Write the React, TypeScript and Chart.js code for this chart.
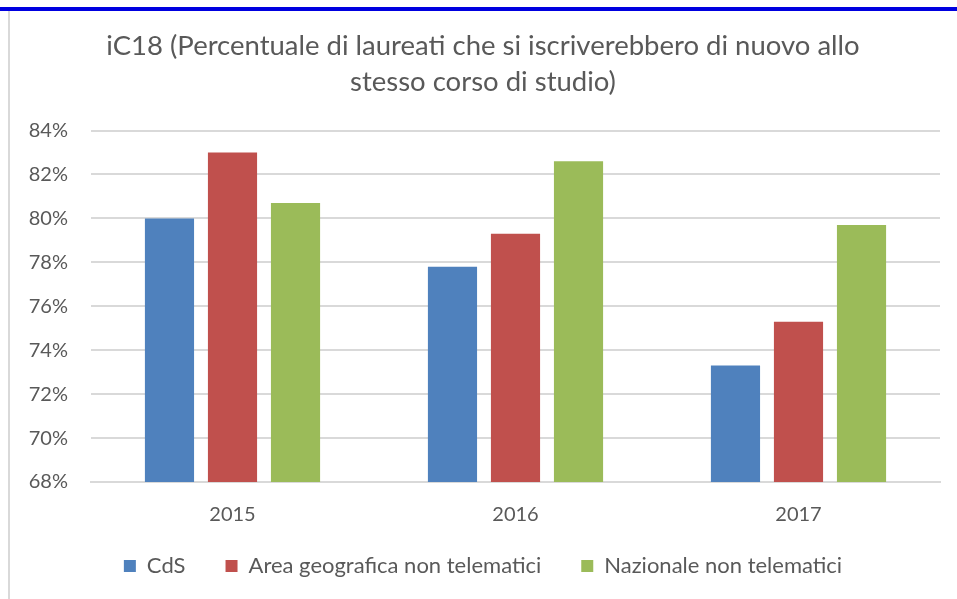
import React, { useEffect, useRef } from "react";
import { Chart, registerables } from "chart.js";

Chart.register(...registerables);

const categories = ["2015", "2016", "2017"];
const cdsValues = [80.0, 77.8, 73.3];
const areaValues = [83.0, 79.3, 75.3];
const nazionaleValues = [80.7, 82.6, 79.7];
const seriesNames = ["CdS", "Area geografica non telematici", "Nazionale non telematici"];
const titleLines = [
  "iC18 (Percentuale di laureati che si iscriverebbero di nuovo allo",
  "stesso corso di studio)",
];

const FONT = "Lato, 'Noto Sans', sans-serif";
const TEXT = "#595959";

export default function App() {
  const ref = useRef<HTMLCanvasElement>(null);
  useEffect(() => {
    if (!ref.current) return;
    const chart = new Chart(ref.current, {
      type: "bar",
      data: {
        labels: categories,
        datasets: [
          { label: seriesNames[0], data: cdsValues, backgroundColor: "#4f81bd" },
          { label: seriesNames[1], data: areaValues, backgroundColor: "#c0504d" },
          { label: seriesNames[2], data: nazionaleValues, backgroundColor: "#9bbb59" },
        ],
      },
      options: {
        animation: false,
        responsive: false,
        maintainAspectRatio: false,
        layout: { padding: { left: 26, right: 17, top: 17, bottom: 12 } },
        datasets: { bar: { categoryPercentage: 0.668, barPercentage: 0.78 } },
        plugins: {
          title: {
            display: true,
            text: titleLines,
            color: TEXT,
            font: { family: FONT, size: 27.5, weight: "normal", lineHeight: 1.3 },
            padding: { top: 0, bottom: 31 },
          },
          legend: {
            position: "bottom",
            labels: {
              color: TEXT,
              font: { family: FONT, size: 22 },
              boxWidth: 12,
              boxHeight: 12,
              padding: 40,
            },
          },
          tooltip: { enabled: false },
        },
        scales: {
          x: {
            grid: { display: false, drawTicks: false },
            border: { color: "#d9d9d9", width: 2 },
            ticks: { color: TEXT, font: { family: FONT, size: 20 }, padding: -45, mirror: true },
            afterFit: (scale: any) => {
              scale.height = 33;
            },
          },
          y: {
            min: 68,
            max: 84,
            grid: { color: "#d9d9d9", lineWidth: 2, drawTicks: false },
            border: { display: false },
            ticks: {
              stepSize: 2,
              color: TEXT,
              font: { family: FONT, size: 20 },
              padding: 23,
              callback: (v: any) => `${v}%`,
            },
            afterFit: (scale: any) => {
              scale.width = 65;
            },
          },
        },
      },
    });
    return () => chart.destroy();
  }, []);
  return (
    <div style={{ position: "fixed", left: 0, top: 0, width: 957, height: 599, background: "#fff", overflow: "hidden" }}>
      <div style={{ position: "absolute", left: 0, top: 7, width: 957, height: 4, background: "#0000e0" }} />
      <canvas
        ref={ref}
        width={957}
        height={588}
        style={{ position: "absolute", left: 0, top: 11, width: 957, height: 588 }}
      />
      <div style={{ position: "absolute", left: 8, top: 11, width: 2, height: 588, background: "#d9d9d9" }} />
    </div>
  );
}
